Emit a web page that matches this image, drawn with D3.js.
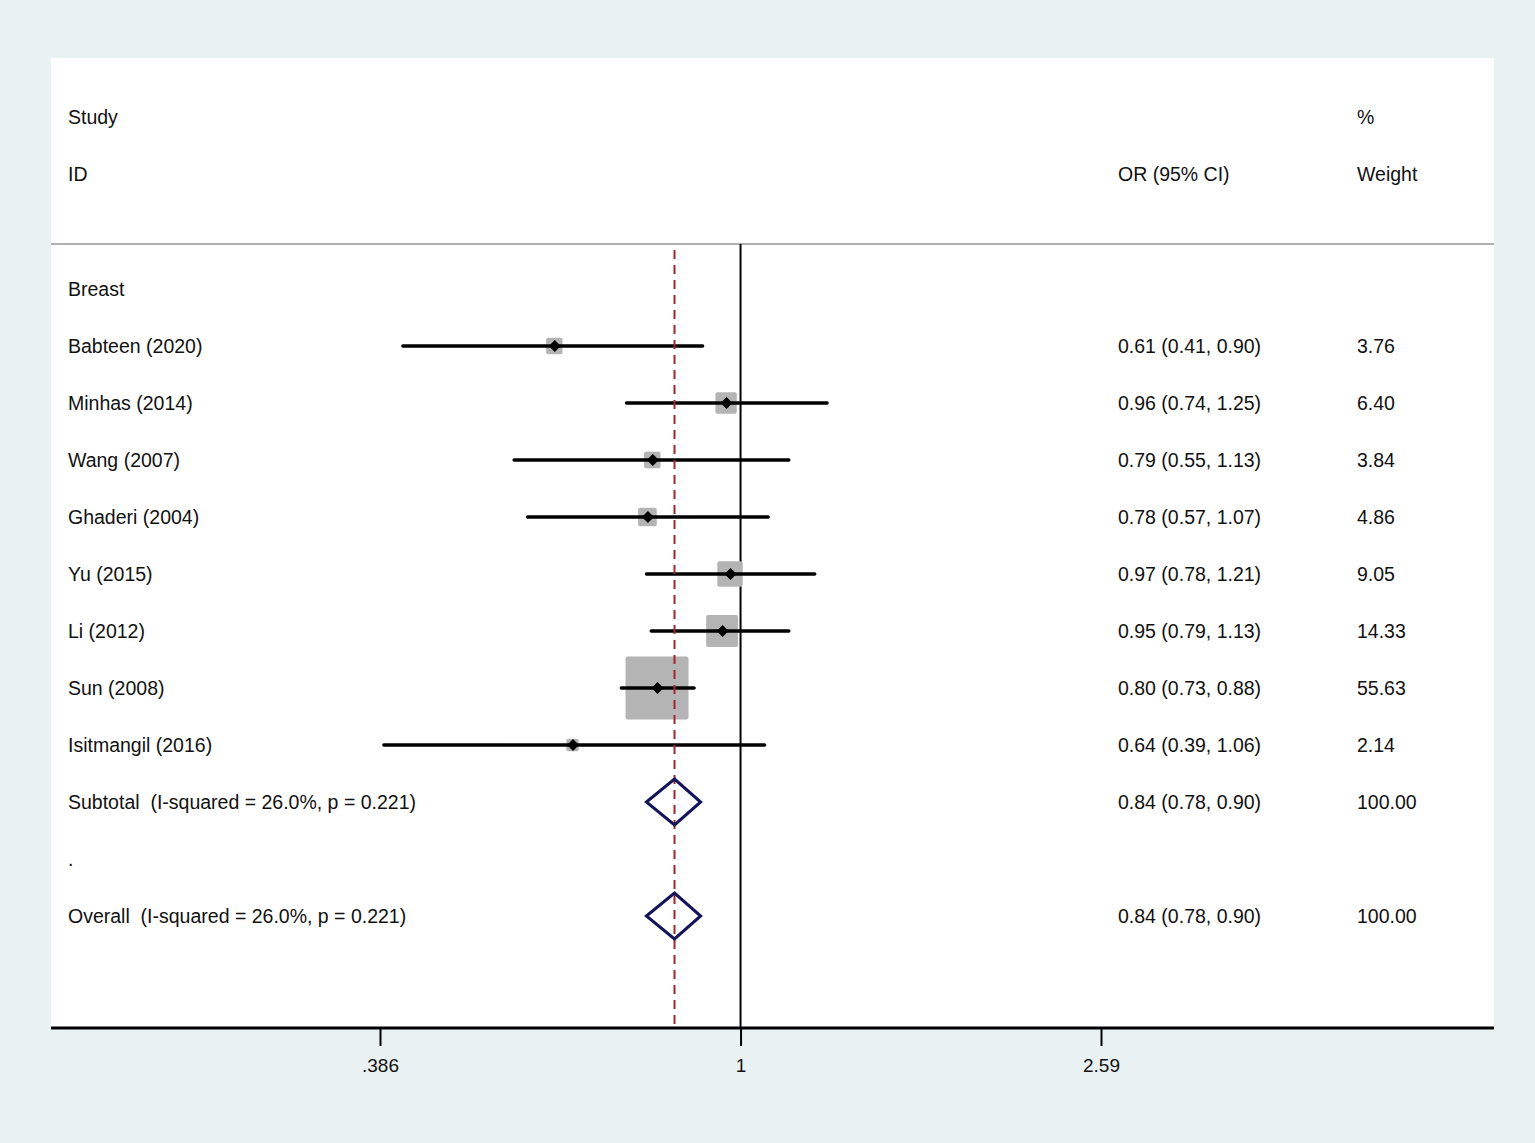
<!DOCTYPE html>
<html>
<head>
<meta charset="utf-8">
<script src="https://cdn.jsdelivr.net/npm/d3@7"></script>
<style>
  body { margin: 0; background: #eaf1f3; }
  svg text { font-family: "Liberation Sans", Arial, sans-serif; fill: #111; white-space: pre; }
</style>
</head>
<body>
<svg id="canvas"></svg>
<script>
let width = 1535
let height = 1143

// study rows
let studies = ['Babteen (2020)', 'Minhas (2014)', 'Wang (2007)', 'Ghaderi (2004)', 'Yu (2015)', 'Li (2012)', 'Sun (2008)', 'Isitmangil (2016)']
let orValues = [0.61, 0.96, 0.79, 0.78, 0.97, 0.95, 0.80, 0.64]
let ciLow = [0.41, 0.74, 0.55, 0.57, 0.78, 0.79, 0.73, 0.39]
let ciHigh = [0.90, 1.25, 1.13, 1.07, 1.21, 1.13, 0.88, 1.06]
let weights = ['3.76', '6.40', '3.84', '4.86', '9.05', '14.33', '55.63', '2.14']

// pooled rows
let pooledLabels = ['Subtotal  (I-squared = 26.0%, p = 0.221)', 'Overall  (I-squared = 26.0%, p = 0.221)']
let pooledRows = [9, 11]
let pooledOr = [0.84, 0.84]
let pooledLow = [0.78, 0.78]
let pooledHigh = [0.90, 0.90]
let pooledWeight = ['100.00', '100.00']

let tickValues = [0.386, 1, 2.59]
let tickLabels = ['.386', '1', '2.59']

let panel = { left: 51, right: 1494, top: 58, bottom: 1028 }

let svg = d3.select('#canvas').attr('width', width).attr('height', height)

let xScale = d3.scaleLog().domain([0.386, 2.59]).range([380, 1101])
let yScale = d3.scaleLinear().domain([0, 11]).range([289, 916])

let colText = 68
let colOr = 1118
let colWeight = 1357

let fmt = d3.format('.2f')

// white panel
svg.append('rect')
    .attr('x', panel.left).attr('y', panel.top)
    .attr('width', panel.right - panel.left)
    .attr('height', panel.bottom - panel.top)
    .attr('fill', '#ffffff')

// header
let header = svg.append('g').attr('font-size', 19.5)
header.append('text').attr('x', colText).attr('y', 124).text('Study')
header.append('text').attr('x', colText).attr('y', 181).text('ID')
header.append('text').attr('x', colOr).attr('y', 181).text('OR (95% CI)')
header.append('text').attr('x', colWeight).attr('y', 124).text('%')
header.append('text').attr('x', colWeight).attr('y', 181).text('Weight')

svg.append('line')
    .attr('x1', panel.left).attr('x2', panel.right)
    .attr('y1', 244).attr('y2', 244)
    .attr('stroke', '#b0b0b0').attr('stroke-width', 2)

// null line
svg.append('line')
    .attr('x1', xScale(1)).attr('x2', xScale(1))
    .attr('y1', 244).attr('y2', panel.bottom)
    .attr('stroke', '#000').attr('stroke-width', 2)

// labels
let labels = svg.append('g').attr('font-size', 19.5)
labels.append('text').attr('x', colText).attr('y', yScale(0) + 7).text('Breast')
labels.append('text').attr('x', colText).attr('y', yScale(10) + 7).text('.')

let rows = svg.append('g')
studies.forEach((name, i) => {
    let y = yScale(i + 1)
    let side = 63 * Math.sqrt(+weights[i] / 55.63)
    rows.append('rect')
        .attr('x', xScale(orValues[i]) - side / 2 + 1)
        .attr('y', y - side / 2)
        .attr('width', side).attr('height', side)
        .attr('rx', 2)
        .attr('fill', '#b4b4b4')
})

// dashed overall line (drawn over boxes)
svg.append('line')
    .attr('x1', xScale(pooledOr[1])).attr('x2', xScale(pooledOr[1]))
    .attr('y1', 250).attr('y2', panel.bottom)
    .attr('stroke', '#a3282c').attr('stroke-width', 2)
    .attr('stroke-dasharray', '9,6')

studies.forEach((name, i) => {
    let y = yScale(i + 1)
    rows.append('line')
        .attr('x1', xScale(ciLow[i])).attr('x2', xScale(ciHigh[i]) + 2)
        .attr('y1', y).attr('y2', y)
        .attr('stroke', '#000').attr('stroke-width', 3.4)
        .attr('stroke-linecap', 'round')
    let cx = xScale(orValues[i]) + 1.5
    rows.append('path')
        .attr('d', `M${cx - 6},${y} L${cx},${y - 6} L${cx + 6},${y} L${cx},${y + 6} Z`)
        .attr('fill', '#000')
    labels.append('text').attr('x', colText).attr('y', y + 7).text(name)
    labels.append('text').attr('x', colOr).attr('y', y + 7)
        .text(`${fmt(orValues[i])} (${fmt(ciLow[i])}, ${fmt(ciHigh[i])})`)
    labels.append('text').attr('x', colWeight).attr('y', y + 7).text(weights[i])
})

pooledLabels.forEach((name, i) => {
    let y = yScale(pooledRows[i])
    let xl = xScale(pooledLow[i]), xm = xScale(pooledOr[i]), xh = xScale(pooledHigh[i])
    svg.append('path')
        .attr('d', `M${xl},${y} L${xm},${y - 23} L${xh},${y} L${xm},${y + 23} Z`)
        .attr('fill', 'none')
        .attr('stroke', '#14145a').attr('stroke-width', 3)
    labels.append('text').attr('x', colText).attr('y', y + 7).text(name)
    labels.append('text').attr('x', colOr).attr('y', y + 7)
        .text(`${fmt(pooledOr[i])} (${fmt(pooledLow[i])}, ${fmt(pooledHigh[i])})`)
    labels.append('text').attr('x', colWeight).attr('y', y + 7).text(pooledWeight[i])
})

// x axis
let xAxis = d3.axisBottom(xScale)
    .tickValues(tickValues)
    .tickFormat((d, i) => tickLabels[i])
    .tickSize(18)
    .tickPadding(13)

let axisG = svg.append('g')
    .attr('transform', 'translate(0,' + panel.bottom + ')')
    .call(xAxis)
axisG.select('.domain').remove()
axisG.selectAll('.tick line').attr('stroke', '#000').attr('stroke-width', 2)
axisG.selectAll('.tick text')
    .attr('font-size', 19)
    .attr('fill', '#111')
    .style('font-family', '"Liberation Sans", Arial, sans-serif')

svg.append('line')
    .attr('x1', panel.left).attr('x2', panel.right)
    .attr('y1', panel.bottom).attr('y2', panel.bottom)
    .attr('stroke', '#000').attr('stroke-width', 3)
</script>
</body>
</html>
